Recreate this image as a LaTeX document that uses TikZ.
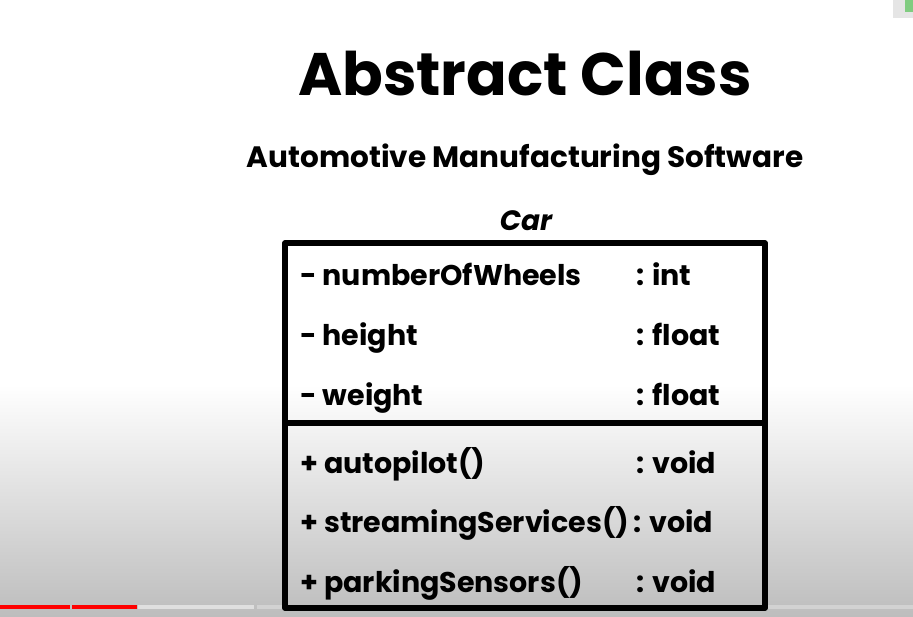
\documentclass[tikz,border=0pt]{standalone}
\usepackage{fontspec}
\setmainfont{Poppins}
\begin{document}
\begin{tikzpicture}[x=1pt,y=-1pt,
  rowtext/.style={anchor=base west,inner sep=0pt,font=\fontsize{28.5}{30}\selectfont\bfseries},
  boxline/.style={line width=5.5pt,line join=round}]
\useasboundingbox (0,0) rectangle (913,617);
\fill[white] (0,0) rectangle (913,617);
\shade[top color=white,bottom color=white!74!black] (0,385) rectangle (913,617);
\fill[gray!20] (893,0) rectangle (913,18);
\fill[green!60!black!50] (905,0) rectangle (913,12);
\node[inner sep=0pt,anchor=base,font=\fontsize{60}{66}\selectfont\bfseries] (title) at (525,96) {Abstract Class};
\node[inner sep=0pt,anchor=base,font=\fontsize{29.5}{32}\selectfont\bfseries] (sub) at (525,168) {Automotive Manufacturing Software};
\node[inner sep=0pt,anchor=base,font=\fontsize{28}{30}\selectfont\bfseries\itshape] (car) at (526,231) {Car};
\fill[red] (0,605) rectangle (70,609);
\fill[red] (72,605) rectangle (137,609);
\fill[gray!25] (138,605) rectangle (254,609);
\fill[gray!35] (257,605) rectangle (913,609);
\coordinate (tl) at (285,243);
\coordinate (br) at (765,608);
\coordinate (dl) at (285,423);
\coordinate (dr) at (765,423);
\draw[boxline] (tl) rectangle (br);
\draw[line width=5.5pt] (dl) -- (dr);
\node[rowtext] (a1) at (300,286) {- numberOfWheels};
\node[rowtext] (t1) at (636,286) {: int};
\node[rowtext] (a2) at (300,346) {- height};
\node[rowtext] (t2) at (636,346) {: float};
\node[rowtext] (a3) at (300,406) {- weight};
\node[rowtext] (t3) at (636,406) {: float};
\node[rowtext] (m1) at (300,473) {+ autopilot()};
\node[rowtext] (u1) at (636,473) {: void};
\node[rowtext] (m2) at (300,532) {+ streamingServices()};
\node[rowtext] (u2) at (633,532) {: void};
\node[rowtext] (m3) at (300,592) {+ parkingSensors()};
\node[rowtext] (u3) at (636,592) {: void};
\end{tikzpicture}
\end{document}
